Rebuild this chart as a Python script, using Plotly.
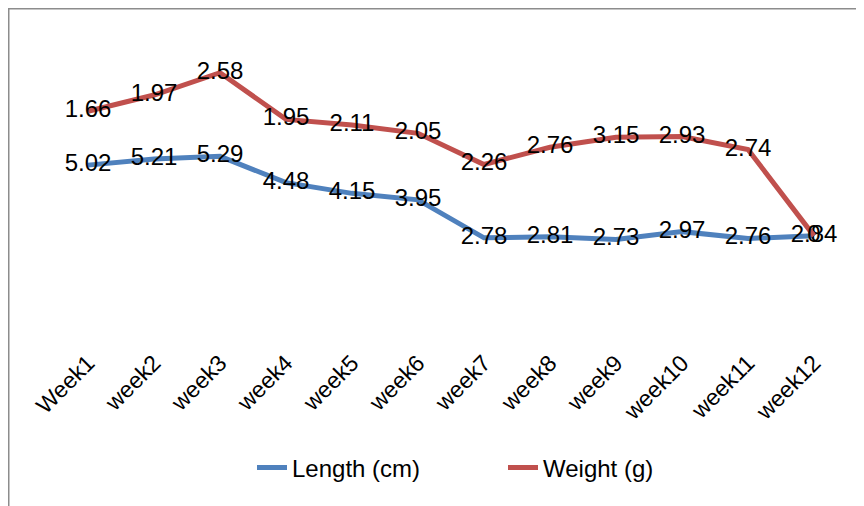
import plotly.graph_objects as go

weeks = ["Week1", "week2", "week3", "week4", "week5", "week6",
         "week7", "week8", "week9", "week10", "week11", "week12"]
length_cm = [5.02, 5.21, 5.29, 4.48, 4.15, 3.95, 2.78, 2.81, 2.73, 2.97, 2.76, 2.84]
weight_g = [1.66, 1.97, 2.58, 1.95, 2.11, 2.05, 2.26, 2.76, 3.15, 2.93, 2.74, 0]

FONT = "Liberation Sans, Arial, sans-serif"
BLUE = "#4F81BD"
RED = "#C0504D"

W, H = 864, 506
ML, MR, MT, MB = 47, 25, 28, 186
PW, PH = W - ML - MR, H - MT - MB


def px_x(p):
    return (p - ML) / PW


def px_y(p):
    return (H - MB - p) / PH


fig = go.Figure()
fig.add_trace(go.Scatter(
    x=weeks, y=length_cm, name="Length (cm)", mode="lines+text",
    stackgroup="one", fill="none",
    line=dict(color=BLUE, width=5),
    text=[f"{v:g}" for v in length_cm], textposition="middle center",
    textfont=dict(family=FONT, size=24, color="black"),
    cliponaxis=False, hoverinfo="skip",
))
fig.add_trace(go.Scatter(
    x=weeks, y=weight_g, name="Weight (g)", mode="lines+text",
    stackgroup="one", fill="none",
    line=dict(color=RED, width=5),
    text=[f"{v:g}" for v in weight_g], textposition="middle center",
    textfont=dict(family=FONT, size=24, color="black"),
    cliponaxis=False, hoverinfo="skip",
))

fig.update_layout(
    width=W, height=H,
    margin=dict(l=ML, r=MR, t=MT, b=MB),
    paper_bgcolor="white", plot_bgcolor="white",
    font=dict(family=FONT, size=24, color="black"),
    xaxis=dict(type="category", range=[-0.5, 11.5], showgrid=False,
               showline=False, zeroline=False, ticks="", tickangle=-45,
               ticklabelstandoff=16, tickfont=dict(family=FONT, size=23)),
    yaxis=dict(range=[0, 9], visible=False),
    legend=dict(orientation="h", x=px_x(244), xanchor="left",
                y=px_y(460), yanchor="middle",
                font=dict(family=FONT, size=24),
                entrywidth=206, entrywidthmode="pixels",
                traceorder="normal"),
    showlegend=True,
    shapes=[
        dict(type="line", xref="paper", yref="paper",
             x0=px_x(0), x1=px_x(0), y0=px_y(506), y1=px_y(0),
             line=dict(color="#8c8c8c", width=3)),
        dict(type="line", xref="paper", yref="paper",
             x0=px_x(0), x1=px_x(864), y0=px_y(0), y1=px_y(0),
             line=dict(color="#8c8c8c", width=3)),
    ],
)

fig.write_html("out.html")
